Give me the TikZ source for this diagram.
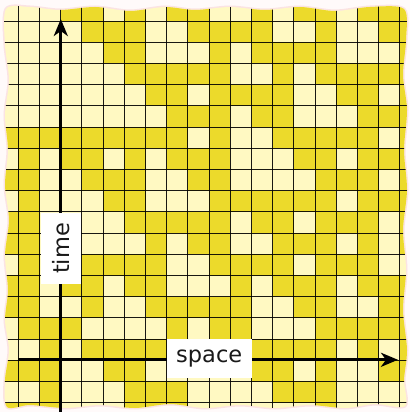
\documentclass[tikz,border=0pt]{standalone}
\usepackage{fontspec}
\setsansfont{DejaVu Sans}
\usetikzlibrary{arrows.meta}
\definecolor{cdark}{HTML}{ECDA2B}
\definecolor{clight}{HTML}{FFF9C2}
\definecolor{cbg}{HTML}{FFFAFA}
\definecolor{cedge}{HTML}{FBE3E3}
\tikzset{
  gridline/.style={draw=black, line width=0.95pt, opacity=0.9},
  axis/.style={draw=black, line width=3.2pt, -{Stealth[length=17pt,width=14pt,inset=5pt]}},
  lbl/.style={fill=white, inner sep=0pt, text=black!90, font=\sffamily\fontsize{22.5}{26}\selectfont}
}
\begin{document}
\begin{tikzpicture}[x=1pt,y=-1pt]
\useasboundingbox (0,0) rectangle (410,412);
\fill[cbg] (0,0) rectangle (410,412);
\def\edgepath{plot[smooth cycle] coordinates {(6,9) (30,7) (60,10) (95,7) (130,11) (165,7) (195,10) (230,7) (265,10) (300,7) (335,11) (370,7) (404,9) (406,40) (403,75) (407,110) (404,150) (407,190) (403,230) (406,270) (403,310) (407,350) (404,380) (405,406) (375,404) (345,408) (310,405) (275,408) (240,405) (205,408) (170,404) (135,408) (100,405) (65,408) (30,405) (7,407) (5,380) (9,350) (5,320) (8,290) (5,255) (9,220) (5,185) (8,150) (5,115) (9,80) (5,45)}}
\draw[cedge, line width=3pt] \edgepath;
\begin{scope}
\clip \edgepath;
\fill[clight] (0,0) rectangle (410,412);
\foreach \row [count=\r from 0] in {
{0,0,0,1,1,0,1,0,1,1,0,0,1,0,1,1,0,1,1,1},
{0,0,0,0,1,1,1,0,0,1,1,1,1,0,0,1,0,0,1,1},
{0,0,0,0,0,1,1,0,0,0,1,0,1,1,1,1,0,0,0,1},
{0,0,0,0,0,0,1,1,1,1,1,0,0,1,0,1,1,1,1,1},
{0,0,0,0,0,0,0,1,1,0,1,1,1,1,0,0,1,1,0,1},
{0,0,0,0,0,0,0,0,1,1,1,0,1,1,0,0,0,1,1,1},
{1,1,1,1,1,1,1,1,1,0,1,0,0,1,1,1,1,1,0,1},
{0,1,0,1,1,0,1,0,1,1,1,0,0,0,1,1,0,1,1,1},
{1,1,0,0,1,1,1,0,0,1,1,0,0,0,0,1,1,1,0,1},
{0,1,0,0,0,1,1,0,0,0,1,1,1,1,1,1,0,1,1,1},
{1,1,0,0,0,0,1,1,1,1,1,0,1,1,0,1,1,1,0,1},
{1,1,0,0,0,0,0,1,0,1,1,0,0,1,1,1,0,1,0,1},
{0,1,0,0,1,1,1,1,0,0,1,1,1,1,0,1,1,1,0,0},
{1,1,0,1,1,0,1,1,0,0,0,1,0,1,1,1,0,1,1,1},
{1,1,0,0,1,0,0,1,1,1,1,1,0,0,1,1,0,0,1,1},
{0,1,1,1,0,0,0,0,1,0,1,1,0,0,0,1,1,1,1,1},
{0,0,1,0,1,1,1,1,0,0,0,0,1,1,1,1,0,1,0,1},
{1,1,1,0,0,1,1,0,0,0,0,0,1,1,0,1,0,0,1,1},
{0,0,1,0,0,0,1,1,1,0,0,0,0,1,1,1,0,0,0,0},
{1,1,1,0,0,0,1,1,1,0,0,0,0,0,0,1,0,0,0,0}}{
  \foreach \v [count=\c from 0] in \row {
    \ifnum\v=1 \fill[cdark] ({-2.9+21.2*\c},{-0.2+21.2*\r}) rectangle ++(21.3,21.3);\fi
  }
}
\foreach \k in {0,...,18}{
  \draw[gridline] ({18.3+21.2*\k},0) -- ++(0,412);
  \draw[gridline] (0,{21+21.2*\k}) -- ++(410,0);
}
\end{scope}
\coordinate (vbot) at (60.8,412);
\coordinate (vtop) at (60.8,19);
\coordinate (hleft) at (18.3,359.8);
\coordinate (hright) at (398,359.8);
\draw[axis] (vbot) -- (vtop);
\draw[axis] (hleft) -- (hright);
\node[lbl, rotate=90, minimum width=71.6pt, minimum height=40.3pt] (timelbl) at (60.9,248.5) {time};
\node[lbl, minimum width=85pt, minimum height=38.4pt] (spacelbl) at (209.2,358.5) {space};
\end{tikzpicture}
\end{document}
